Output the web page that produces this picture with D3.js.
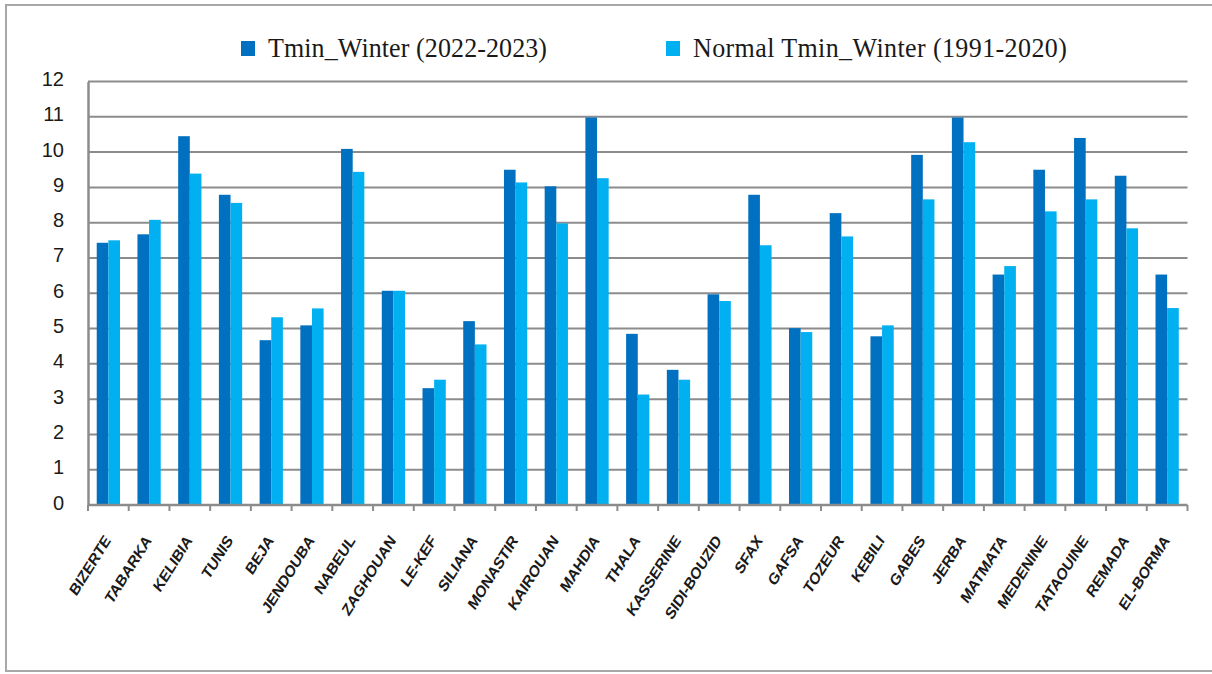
<!DOCTYPE html>
<html>
<head>
<meta charset="utf-8">
<script src="https://cdn.jsdelivr.net/npm/d3@7"></script>
<style>
  html, body { margin: 0; padding: 0; background: #ffffff; }
  svg { display: block; }
</style>
</head>
<body>
<svg id="chart" width="1212" height="674"></svg>
<script>
// Winter minimum temperatures by station (°C)
const stations = ["BIZERTE","TABARKA","KELIBIA","TUNIS","BEJA","JENDOUBA","NABEUL","ZAGHOUAN","LE-KEF","SILIANA","MONASTIR","KAIROUAN","MAHDIA","THALA","KASSERINE","SIDI-BOUZID","SFAX","GAFSA","TOZEUR","KEBILI","GABES","JERBA","MATMATA","MEDENINE","TATAOUINE","REMADA","EL-BORMA"];
const tminWinter2223 = [7.43,7.67,10.45,8.79,4.67,5.09,10.09,6.07,3.31,5.21,9.5,9.03,10.98,4.85,3.83,5.97,8.79,5.01,8.27,4.78,9.92,10.98,6.53,9.5,10.4,9.33,6.53];
const normalTmin9120 = [7.5,8.08,9.39,8.56,5.32,5.57,9.44,6.07,3.55,4.55,9.14,7.98,9.26,3.13,3.55,5.78,7.36,4.9,7.61,5.09,8.66,10.28,6.77,8.32,8.66,7.84,5.58];
const seriesNames = ["Tmin_Winter (2022-2023)", "Normal Tmin_Winter (1991-2020)"];
const seriesColors = ["#0070C0", "#00B0F0"];
const yTicks = [0,1,2,3,4,5,6,7,8,9,10,11,12];

const svg = d3.select("#chart");
const plot = { left: 88, right: 1187.5, top: 81.5, bottom: 505 };

// outer frame (right edge runs past the canvas)
svg.append("rect")
  .attr("x", 6).attr("y", 5)
  .attr("width", 1220).attr("height", 666)
  .attr("fill", "none")
  .attr("stroke", "#a8a8a8")
  .attr("stroke-width", 2);

const x = d3.scaleBand().domain(stations).range([plot.left, plot.right]).padding(0);
const y = d3.scaleLinear().domain([0, 12]).range([plot.bottom, plot.top]);
const bw = x.bandwidth() / 3.5;   // two bars plus a 150% gap per category

// horizontal grid lines
svg.append("g")
  .selectAll("line")
  .data(yTicks.filter(d => d > 0))
  .join("line")
  .attr("x1", plot.left).attr("x2", plot.right)
  .attr("y1", d => y(d)).attr("y2", d => y(d))
  .attr("stroke", "#8c8c8c")
  .attr("stroke-width", 2);

// bars
const series = [tminWinter2223, normalTmin9120];
series.forEach((vals, si) => {
  svg.append("g")
    .selectAll("rect")
    .data(stations)
    .join("rect")
    .attr("x", d => x(d) + bw * (0.75 + si))
    .attr("width", bw)
    .attr("y", (d, i) => y(vals[i]))
    .attr("height", (d, i) => y(0) - y(vals[i]))
    .attr("fill", seriesColors[si]);
});

// y axis
const yAxis = svg.append("g")
  .attr("transform", `translate(${plot.left},0)`)
  .call(d3.axisLeft(y).tickValues(yTicks).tickSize(0).tickPadding(24).tickFormat(d3.format("d")));
yAxis.select(".domain").attr("stroke", "#8c8c8c").attr("stroke-width", 2.5);
yAxis.selectAll("text")
  .attr("font-family", "'Liberation Sans', Arial, sans-serif")
  .attr("font-size", 20)
  .attr("fill", "#1a1a1a")
  .attr("dy", "0.2em");

// x axis baseline and category ticks at band boundaries
const xb = svg.append("g");
xb.append("line")
  .attr("x1", plot.left).attr("x2", plot.right)
  .attr("y1", plot.bottom).attr("y2", plot.bottom)
  .attr("stroke", "#8c8c8c").attr("stroke-width", 2.5);
const bounds = stations.map(s => x(s)).concat([plot.right]);
xb.selectAll("line.tk")
  .data(bounds)
  .join("line")
  .attr("class", "tk")
  .attr("x1", d => d).attr("x2", d => d)
  .attr("y1", plot.bottom).attr("y2", plot.bottom + 6)
  .attr("stroke", "#8c8c8c").attr("stroke-width", 2);

// rotated category labels, slightly stretched vertically
xb.selectAll("g.cat")
  .data(stations)
  .join("g")
  .attr("class", "cat")
  .attr("transform", d => "translate(" + (x(d) + x.bandwidth() / 2 + 3) + "," + (plot.bottom + 36) + ")")
  .append("text")
  .attr("text-anchor", "end")
  .attr("transform", "scale(1,1.2) rotate(-53)")
  .attr("font-family", "'Liberation Sans', Arial, sans-serif")
  .attr("font-weight", "bold")
  .attr("font-size", 14)
  .attr("letter-spacing", "-0.2px")
  .attr("fill", "#1a1a1a")
  .text(d => d);

// legend
const legendX = [241, 666];
const legend = svg.append("g");
seriesNames.forEach((name, i) => {
  legend.append("rect")
    .attr("x", legendX[i]).attr("y", 41)
    .attr("width", 14).attr("height", 15)
    .attr("fill", seriesColors[i]);
  legend.append("text")
    .attr("transform", `translate(${legendX[i] + 27},57) scale(1,1.08)`)
    .attr("font-family", "'Liberation Serif', 'Times New Roman', serif")
    .attr("font-size", 26)
    .attr("letter-spacing", i === 1 ? "0.4px" : "0.1px")
    .attr("fill", "#1a1a1a")
    .text(name);
});
</script>
</body>
</html>
